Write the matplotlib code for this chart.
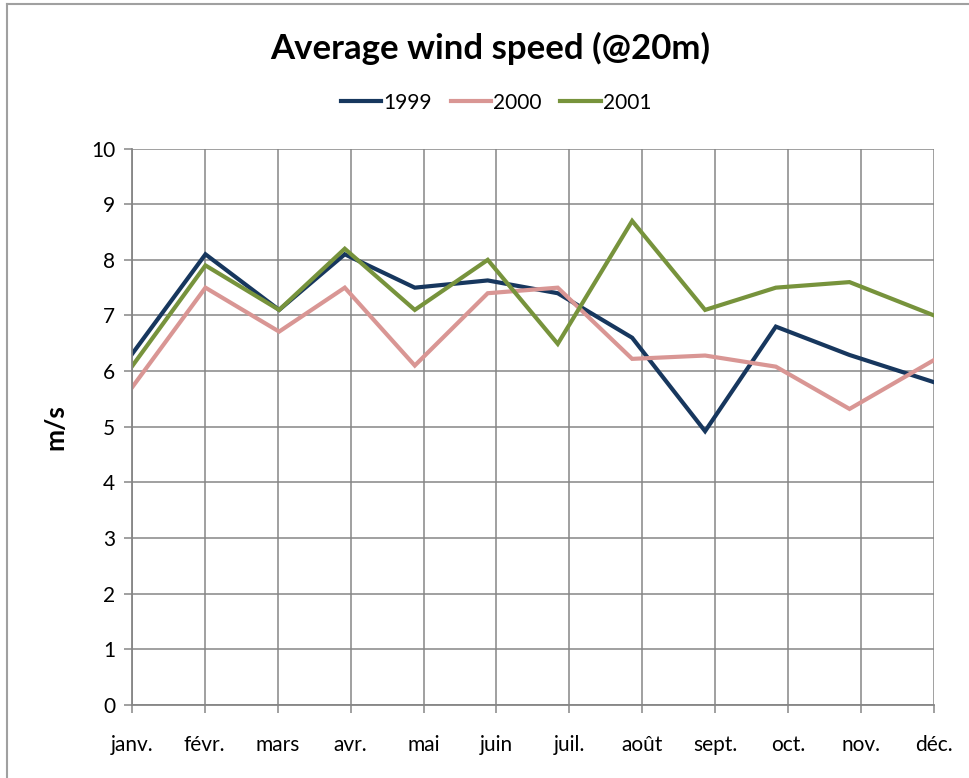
import numpy as np
import matplotlib
matplotlib.use('Agg')
import matplotlib.pyplot as plt

plt.rcParams['font.family'] = ['Lato', 'DejaVu Sans']

# month labels and positions of the measurement points (month units)
months = ['janv.', 'févr.', 'mars', 'avr.', 'mai', 'juin',
          'juil.', 'août', 'sept.', 'oct.', 'nov.', 'déc.']
point_pos = [0.0, 1.01, 2.02, 2.92, 3.88, 4.88, 5.84, 6.86, 7.86, 8.83, 9.84, 11.0]

wind_1999 = [6.3, 8.1, 7.1, 8.1, 7.5, 7.63, 7.4, 6.6, 4.92, 6.8, 6.29, 5.8]
wind_2000 = [5.7, 7.5, 6.71, 7.5, 6.1, 7.4, 7.5, 6.22, 6.28, 6.08, 5.32, 6.2]
wind_2001 = [6.08, 7.9, 7.1, 8.2, 7.1, 8.0, 6.49, 8.7, 7.1, 7.5, 7.6, 7.0]

years = ['1999', '2000', '2001']
colors = ['#17375E', '#D99694', '#77933C']

fig = plt.figure(figsize=(9.69, 7.78), dpi=100)
ax = fig.add_axes([0.136, 0.094, 0.828, 0.715])

for vals, lab, c in zip([wind_1999, wind_2000, wind_2001], years, colors):
    ax.plot(point_pos, vals, color=c, lw=3, label=lab, solid_joinstyle='miter')

gcol = '#868686'
ax.set_xlim(0, 11)
ax.set_ylim(0, 10)
ax.set_yticks(np.arange(0, 11, 1))
ax.set_xticks(np.arange(12))
ax.set_xticklabels(months)
ax.grid(True, color=gcol, lw=1.1)
ax.set_axisbelow(True)
for s in ['top', 'right']:
    ax.spines[s].set_visible(False)
for s in ['left', 'bottom']:
    ax.spines[s].set_color(gcol)
    ax.spines[s].set_linewidth(1.3)
ax.tick_params(axis='both', colors=gcol, length=6, width=1.1,
               labelcolor='black', labelsize=15)
ax.tick_params(axis='x', pad=16)
ax.tick_params(axis='y', pad=6)

ax.set_ylabel('m/s', fontsize=19, fontweight='bold', labelpad=17)

fig.text(0.506, 0.938, 'Average wind speed (@20m)', ha='center', va='center',
         fontsize=25, fontweight='bold')
fig.legend(loc='center', bbox_to_anchor=(0.512, 0.868), ncol=3, frameon=False,
           fontsize=15, handlelength=1.95, handletextpad=0.1, columnspacing=0.9)

# outer chart frame (top and left edges visible)
fig.add_artist(plt.Line2D([0.007, 1.0], [0.995, 0.995], color='#A0A0A0', lw=1.5,
                          transform=fig.transFigure))
fig.add_artist(plt.Line2D([0.007, 0.007], [0.0, 0.995], color='#A0A0A0', lw=1.5,
                          transform=fig.transFigure))

fig.savefig('out.png', dpi=100)
